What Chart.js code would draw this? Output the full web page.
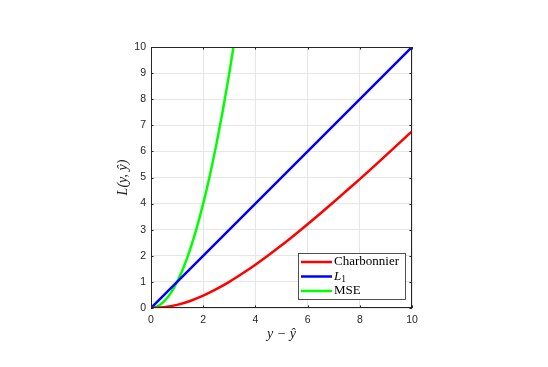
<!DOCTYPE html>
<html>
<head>
<meta charset="utf-8">
<script src="https://cdn.jsdelivr.net/npm/chart.js@4.4.0/dist/chart.umd.min.js"></script>
<style>
  html, body { margin: 0; padding: 0; background: #fff; }
  #wrap { width: 548px; height: 367px; }
</style>
</head>
<body>
<div id="wrap"><canvas id="c" width="548" height="367"></canvas></div>
<script>
// valeurs
const xCharb = [0, 0.5, 1, 1.5, 2, 2.5, 3, 3.5, 4, 4.5, 5, 5.5, 6, 6.5, 7, 7.5, 8, 8.5, 9, 9.5, 10]
const yCharb = [0, 0.03, 0.12, 0.27, 0.47, 0.72, 1.0, 1.32, 1.66, 2.02, 2.4, 2.8, 3.21, 3.63, 4.06, 4.5, 4.94, 5.39, 5.85, 6.31, 6.77]
const xL1 = [0, 10]
const yL1 = [0, 10]
const xMse = [0, 0.25, 0.5, 0.75, 1, 1.25, 1.5, 1.75, 2, 2.25, 2.5, 2.75, 3, 3.16]
const yMse = [0, 0.06, 0.25, 0.56, 1, 1.56, 2.25, 3.06, 4, 5.06, 6.25, 7.56, 9, 10]
const xTicks = [0, 2, 4, 6, 8, 10]
const yTicks = [0, 1, 2, 3, 4, 5, 6, 7, 8, 9, 10]

const axisColor = "#262626"

function toPoints(xs, ys) {
  return xs.map((x, i) => ({ x: x, y: ys[i] }))
}

// cadre, graduations intérieures et légende façon MATLAB
const matlabBox = {
  id: "matlabBox",
  afterDraw(chart) {
    const ctx = chart.ctx
    const a = chart.chartArea
    const sx = chart.scales.x
    const sy = chart.scales.y
    ctx.save()
    ctx.strokeStyle = axisColor
    ctx.lineWidth = 1
    ctx.strokeRect(a.left + 0.5, a.top + 0.5, a.right - a.left - 1, a.bottom - a.top - 1)
    const tl = 2.6
    ctx.beginPath()
    xTicks.forEach((t) => {
      const px = Math.round(sx.getPixelForValue(t)) + 0.5
      ctx.moveTo(px, a.bottom); ctx.lineTo(px, a.bottom - tl)
      ctx.moveTo(px, a.top); ctx.lineTo(px, a.top + tl)
    })
    yTicks.forEach((t) => {
      const py = Math.round(sy.getPixelForValue(t)) + 0.5
      ctx.moveTo(a.left, py); ctx.lineTo(a.left + tl, py)
      ctx.moveTo(a.right, py); ctx.lineTo(a.right - tl, py)
    })
    ctx.stroke()

    // légende
    const lx = 298, ly = 253, lw = 107, lh = 46
    ctx.fillStyle = "#fff"
    ctx.fillRect(lx, ly, lw, lh)
    ctx.strokeStyle = axisColor
    ctx.lineWidth = 0.8
    ctx.strokeRect(lx + 0.5, ly + 0.5, lw, lh)
    const rows = [262, 276.5, 291]
    chart.data.datasets.forEach((ds, i) => {
      const y = rows[i]
      ctx.strokeStyle = ds.borderColor
      ctx.lineWidth = 2.5
      ctx.beginPath()
      ctx.moveTo(301, y); ctx.lineTo(332, y)
      ctx.stroke()
      ctx.fillStyle = "#000"
      ctx.textBaseline = "middle"
      ctx.textAlign = "left"
      if (ds.label === "L1") {
        ctx.font = "italic 13px 'Liberation Serif'"
        ctx.fillText("L", 334, y)
        const w = ctx.measureText("L").width
        ctx.font = "9.5px 'Liberation Serif'"
        ctx.fillText("1", 334 + w, y + 3)
      } else {
        ctx.font = "13px 'Liberation Serif'"
        ctx.fillText(ds.label, 334, y)
      }
    })
    ctx.restore()
  },
}

const ds = (label, xs, ys, color) => ({
  label: label,
  data: toPoints(xs, ys),
  borderColor: color,
  backgroundColor: color,
  borderWidth: 2.5,
  pointRadius: 0,
  tension: 0.4,
  cubicInterpolationMode: "monotone",
  fill: false,
})

new Chart(document.getElementById("c"), {
  type: "line",
  data: {
    datasets: [
      ds("Charbonnier", xCharb, yCharb, "#ff0000"),
      ds("L1", xL1, yL1, "#0000ff"),
      ds("MSE", xMse, yMse, "#00ff00"),
    ],
  },
  options: {
    responsive: false,
    animation: false,
    layout: { padding: { left: 111, right: 136, top: 47, bottom: 20 } },
    plugins: { legend: { display: false }, tooltip: { enabled: false } },
    scales: {
      x: {
        type: "linear",
        min: 0,
        max: 10,
        afterBuildTicks: (s) => { s.ticks = xTicks.map((v) => ({ value: v })) },
        afterFit: (s) => { s.height = 39 },
        grid: { color: "#e6e6e6", drawTicks: false },
        border: { display: false },
        ticks: { color: axisColor, padding: 6, font: { family: "'Liberation Sans'", size: 10.5 } },
        title: {
          display: true,
          text: "y − ŷ",
          color: "#222",
          font: { family: "'Liberation Serif'", size: 14, style: "italic" },
        },
      },
      y: {
        type: "linear",
        min: 0,
        max: 10,
        afterBuildTicks: (s) => { s.ticks = yTicks.map((v) => ({ value: v })) },
        afterFit: (s) => { s.width = 40 },
        grid: { color: "#e6e6e6", drawTicks: false },
        border: { display: false },
        ticks: { color: axisColor, padding: 5, font: { family: "'Liberation Sans'", size: 10.5 } },
        title: {
          display: true,
          text: "L(y, ŷ)",
          color: "#222",
          font: { family: "'Liberation Serif'", size: 14, style: "italic" },
        },
      },
    },
  },
  plugins: [matlabBox],
})
</script>
</body>
</html>
